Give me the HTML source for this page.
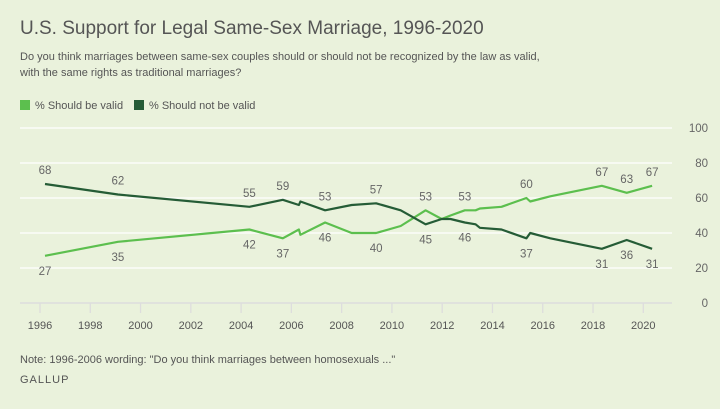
<!DOCTYPE html>
<html><head><meta charset="utf-8"><style>
html,body{margin:0;padding:0;background:#eaf2dc;}
svg{display:block;font-family:"Liberation Sans",sans-serif;}
</style></head><body>
<svg width="720" height="409">
<rect width="720" height="409" fill="#eaf2dc"/>
<text x="20" y="34" font-size="19" fill="#555">U.S. Support for Legal Same-Sex Marriage, 1996-2020</text>
<text x="20" y="60" font-size="11" fill="#555">Do you think marriages between same-sex couples should or should not be recognized by the law as valid,</text>
<text x="20" y="76" font-size="11" fill="#555">with the same rights as traditional marriages?</text>
<g>
<rect x="20" y="100" width="10" height="10" fill="#5cbf4e"/>
<text x="35" y="109" font-size="11" fill="#555">% Should be valid</text>
<rect x="134" y="100" width="10" height="10" fill="#255c36"/>
<text x="149" y="109" font-size="11" fill="#555">% Should not be valid</text>
</g>
<g id="grid"></g><g id="axis"></g><g id="series"></g><g id="labels"></g>
<text x="20" y="363" font-size="11" fill="#555">Note: 1996-2006 wording: "Do you think marriages between homosexuals ..."</text>
<text x="20" y="383" font-size="11" fill="#555" letter-spacing="1">GALLUP</text>
</svg>
<script>
const validYears=[1996.2,1999.1,2004.33,2005.66,2006.3,2006.36,2007.34,2008.4,2009.37,2010.35,2011.34,2011.98,2012.33,2012.9,2013.33,2013.5,2014.36,2015.35,2015.5,2016.3,2018.35,2019.34,2020.35];
const validVals=[27,35,42,37,42,39,46,40,40,44,53,48,50,53,53,54,55,60,58,61,67,63,67];
const notYears=[1996.2,1999.1,2004.33,2005.66,2006.3,2006.36,2007.34,2008.4,2009.37,2010.35,2011.34,2011.98,2012.33,2012.9,2013.33,2013.5,2014.36,2015.35,2015.5,2016.3,2018.35,2019.34,2020.35];
const notVals=[68,62,55,59,56,58,53,56,57,53,45,48,48,46,45,43,42,37,40,37,31,36,31];
const validLabels=[[1996.2,27,-1],[1999.1,35,-1],[2004.33,42,-1],[2005.66,37,-1],[2007.34,46,-1],[2009.37,40,-1],[2011.34,53,1],[2012.9,53,1],[2015.35,60,1],[2018.35,67,1],[2019.34,63,1],[2020.35,67,1]];
const notLabels=[[1996.2,68,1],[1999.1,62,1],[2004.33,55,1],[2005.66,59,1],[2007.34,53,1],[2009.37,57,1],[2011.34,45,-1],[2012.9,46,-1],[2015.35,37,-1],[2018.35,31,-1],[2019.34,36,-1],[2020.35,31,-1]];
const yTicks=[0,20,40,60,80,100];
const xTicks=[1996,1998,2000,2002,2004,2006,2008,2010,2012,2014,2016,2018,2020];
const NS="http://www.w3.org/2000/svg";
const xs=y=>40+(y-1996)*(603.3/24);
const ys=v=>303-v*1.75;
function mk(t,a,p){const e=document.createElementNS(NS,t);for(const k in a)e.setAttribute(k,a[k]);p.appendChild(e);return e;}
const grid=document.getElementById('grid'),axis=document.getElementById('axis'),ser=document.getElementById('series'),lab=document.getElementById('labels');
yTicks.forEach(v=>{
 if(v>0){const l=mk('line',{x1:20,x2:672,y1:ys(v),y2:ys(v),stroke:'#fff','stroke-width':1.3},grid);
 
 }
 const t=mk('text',{x:708,y:ys(v)+4,'font-size':11.5,fill:'#666','text-anchor':'end'},axis);
 t.textContent=v;
 
 
});
const base=mk('line',{x1:20,x2:672,y1:303,y2:303,stroke:'#ddd','stroke-width':1.5},axis);


xTicks.forEach(y=>{
 const l=mk('line',{x1:xs(y),x2:xs(y),y1:303,y2:313,stroke:'#ddd','stroke-width':1.3},axis);
 
 
 const t=mk('text',{x:xs(y),y:329,'font-size':11,fill:'#555','text-anchor':'middle'},axis);
 t.textContent=y;
 
 
});
function line(years,vals,color,name){
 const d=years.map((y,i)=>(i?'L':'M')+xs(y).toFixed(1)+','+ys(vals[i]).toFixed(1)).join('');
 const p=mk('path',{d:d,fill:'none',stroke:color,'stroke-width':2.2,'stroke-linejoin':'round'},ser);
 
 
}
line(validYears,validVals,'#5cbf4e','line-should-be-valid');
line(notYears,notVals,'#255c36','line-should-not-be-valid');
function labels(arr,name){arr.forEach(([y,v,dir])=>{
 const t=mk('text',{x:xs(y),y:dir>0?ys(v)-10:ys(v)+19,'font-size':11.5,fill:'#666','text-anchor':'middle'},lab);
 t.textContent=v;
 
 
});}
labels(validLabels,'label-valid');
labels(notLabels,'label-not-valid');
</script>
</body></html>
